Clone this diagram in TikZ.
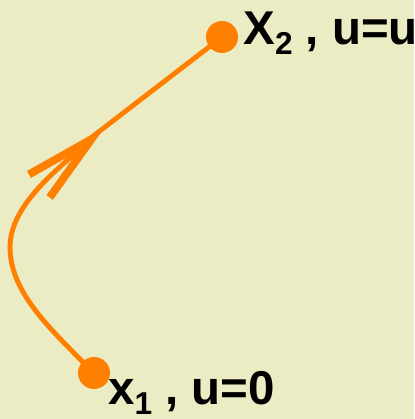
\documentclass[tikz,border=0pt]{standalone}
\usepackage{fontspec}
\setmainfont{Liberation Sans}
\usetikzlibrary{arrows.meta}
\definecolor{paper}{RGB}{236,236,196}
\definecolor{trace}{RGB}{255,128,0}
\newcommand{\lowidx}[1]{\raisebox{-5.5pt}{\fontsize{18}{18}\selectfont #1}}
\begin{document}
\begin{tikzpicture}[
  dot/.style={circle, fill=trace, inner sep=0pt, minimum size=0.64cm},
  curve/.style={draw=trace, line width=2.8pt},
  lbl/.style={anchor=base west, inner sep=0pt, font=\fontsize{27}{30}\selectfont\bfseries}]
\fill[paper] (0,0) rectangle (8.28,8.38);
\clip (0,0) rectangle (8.28,8.38);
\node[dot] (p1) at (1.88,0.92) {};
\node[dot] (p2) at (4.44,7.64) {};
\coordinate (bend) at (0.20,3.44);
\coordinate (mid) at (2.10,5.84);
\draw[curve] (p1.center) .. controls (0.98,1.82) and (0.20,2.54) .. (bend);
\draw[curve, -{Straight Barb[length=1.4cm, width=0.62cm, line width'=4.5pt]}]
  (bend) .. controls (0.20,4.30) and (1.22,5.05) .. (mid);
\draw[curve, shorten <=-9pt] (mid) -- (p2.center);
\node[lbl] (t2) at (4.86,7.48) {X\lowidx{2} , u=u};
\node[lbl] (t1) at (2.16,0.28) {x\lowidx{1} , u=0};
\end{tikzpicture}
\end{document}
